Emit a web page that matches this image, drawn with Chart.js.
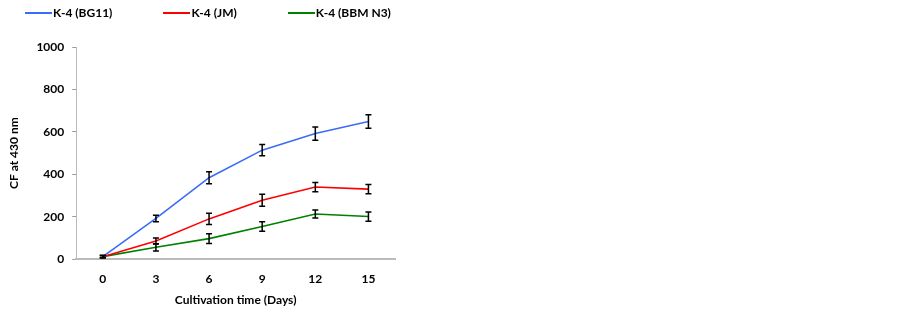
<!DOCTYPE html>
<html>
<head>
<meta charset="utf-8">
<script src="https://cdn.jsdelivr.net/npm/chart.js@4"></script>
<style>
  html, body { margin: 0; padding: 0; background: #fff; }
  #wrap { position: relative; width: 415px; height: 315px; }
  #legend { position: absolute; top: 5px; left: 25px; white-space: nowrap;
            font: bold 12px Lato, "Open Sans", sans-serif; color: #000; }
  #legend .item { display: inline-block; margin-right: 51px; line-height: 16px; }
  #legend .swatch { display: inline-block; width: 27px; height: 2px; vertical-align: middle;
                    margin-right: 1px; position: relative; top: -1px; }
</style>
</head>
<body>
<div id="wrap"><div id="legend"></div><canvas id="myChart"></canvas></div>
<script>
var days = ['0', '3', '6', '9', '12', '15'];
var bg11 = [12, 192, 384, 514, 592, 649];
var jm = [12, 86, 190, 278, 340, 330];
var bbm = [12, 56, 97, 154, 213, 201];
var bg11Err = [5, 15, 28, 27, 31, 32];
var jmErr = [5, 14, 26, 28, 22, 22];
var bbmErr = [5, 17, 23, 22, 19, 22];

Chart.defaults.font.family = 'Lato, "Open Sans", sans-serif';
Chart.defaults.font.weight = 'bold';
Chart.defaults.color = '#000';

// draws the black error bars over every point
var errorBars = {
    id: 'errorBars',
    afterDatasetsDraw: function (chart) {
        var c = chart.ctx;
        var y = chart.scales.y;
        c.save();
        c.strokeStyle = '#000';
        c.lineWidth = 1.5;
        chart.data.datasets.forEach(function (ds, i) {
            var meta = chart.getDatasetMeta(i);
            meta.data.forEach(function (pt, j) {
                var v = ds.data[j], e = ds.errors[j];
                var top = y.getPixelForValue(v + e);
                var bot = y.getPixelForValue(v - e);
                c.beginPath();
                c.moveTo(pt.x, top); c.lineTo(pt.x, bot);
                c.moveTo(pt.x - 3, top); c.lineTo(pt.x + 3, top);
                c.moveTo(pt.x - 3, bot); c.lineTo(pt.x + 3, bot);
                c.stroke();
            });
        });
        c.restore();
    }
};

var ctx = document.getElementById("myChart");
var myChart = new Chart(ctx, {
    type: 'line',
    data: {
        labels: days,
        datasets: [
            { label: 'K-4 (BG11)', data: bg11, errors: bg11Err, borderColor: '#3b6cf6', backgroundColor: '#3b6cf6' },
            { label: 'K-4 (JM)', data: jm, errors: jmErr, borderColor: '#ff0000', backgroundColor: '#ff0000' },
            { label: 'K-4 (BBM N3)', data: bbm, errors: bbmErr, borderColor: '#008000', backgroundColor: '#008000' }
        ]
    },
    options: {
        responsive: true,
        maintainAspectRatio: false,
        animation: false,
        elements: {
            line: { borderWidth: 1.6, tension: 0 },
            point: { radius: 0 }
        },
        layout: { padding: { left: 0, right: 20, top: 47, bottom: 8 } },
        plugins: {
            tooltip: { enabled: false },
            legend: { display: false }
        },
        scales: {
            x: {
                offset: true,
                grid: { display: false, drawTicks: false, offset: true },
                border: { color: '#bbb', width: 2 },
                ticks: { padding: 13, font: { size: 12 } },
                title: { display: true, text: 'Cultivation time (Days)', font: { size: 12, weight: 'bold' }, padding: { top: -7, bottom: 0 } }
            },
            y: {
                min: 0,
                max: 1000,
                ticks: { stepSize: 200, padding: 8, font: { size: 12 }, callback: function (v) { return String(v); } },
                grid: { drawOnChartArea: false, tickLength: 4, color: '#999' },
                border: { color: '#bbb', width: 1 },
                title: { display: true, text: 'CF at 430 nm', font: { size: 12, weight: 'bold' }, padding: { top: 7, bottom: 7 } }
            }
        }
    },
    plugins: [errorBars]
});

// html legend built from the datasets
var legendBox = document.getElementById('legend');
myChart.data.datasets.forEach(function (ds) {
    var item = document.createElement('span');
    item.className = 'item';
    var sw = document.createElement('span');
    sw.className = 'swatch';
    sw.style.background = ds.borderColor;
    item.appendChild(sw);
    item.appendChild(document.createTextNode(ds.label));
    legendBox.appendChild(item);
});
</script>
</body>
</html>
